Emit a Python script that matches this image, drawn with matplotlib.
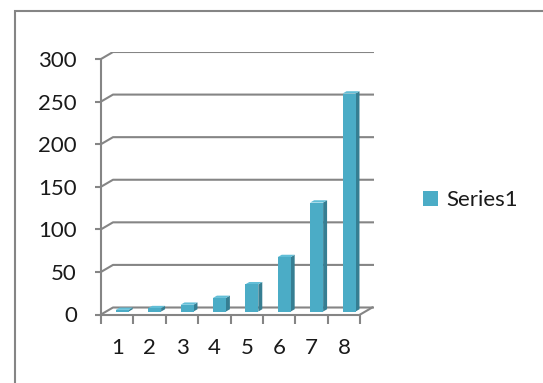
import numpy as np
import matplotlib
matplotlib.use("Agg")
import matplotlib.pyplot as plt
from matplotlib.patches import Rectangle

# data
categories = [1, 2, 3, 4, 5, 6, 7, 8]
values = [2, 4, 8, 16, 32, 64, 128, 256]
y_ticks = [0, 50, 100, 150, 200, 250, 300]
series_name = "Series1"

front_col = "#4BACC6"
side_col = "#367E92"
top_col = "#62BED7"
grid_col = "#858585"
text_col = "#1a1a1a"

plt.rcParams["font.family"] = ["Lato", "DejaVu Sans"]

W, H = 543, 383
fig = plt.figure(figsize=(W / 100, H / 100), dpi=100)

# plot area (front axis to back wall end) in pixels
x0, x1 = 101, 374
y0, y1 = 314.5, 52
ax = fig.add_axes([x0 / W, 1 - y0 / H, (x1 - x0) / W, (y0 - y1) / H])
ax.patch.set_alpha(0)

cat_w = 32.4               # px per category on the front edge
px_unit = 255.5 / 300      # px per value unit
ox = 12 / cat_w            # depth offset, x (data units)
oy = 7 / px_unit           # depth offset, y (data units)
ax.set_xlim(0.5, 0.5 + (x1 - x0) / cat_w)
ax.set_ylim(0, (y0 - y1) / px_unit)

n = len(categories)
xl, xr = 0.5, n + 0.5
lw = 1.5
fs = 16

# floor + back gridlines
ax.fill([xl, xr, xr + ox, xl + ox], [0, 0, oy, oy], color="white", zorder=0)
ax.plot([xr, xr + ox], [0, oy], color=grid_col, lw=lw, zorder=1)
xend = ax.get_xlim()[1]
for v in y_ticks:
    ax.plot([xl, xl + ox, xend], [v, v + oy, v + oy], color=grid_col, lw=lw,
            zorder=1, solid_capstyle="butt")

# 3d-ish columns: front face via bar, side + top from the same values
bw = 0.4
f0, f1 = 0.42, 0.75
xs = np.array(categories, float)
vals = np.array(values, float)
ax.bar(xs + f0 * ox, vals, width=bw, bottom=f0 * oy, color=front_col,
       linewidth=0, zorder=4, label=series_name)
d = f1 - f0
for xc, v in zip(xs, vals):
    l = xc - bw / 2 + f0 * ox
    r = l + bw
    ax.fill([r, r + d * ox, r + d * ox, r],
            [f0 * oy, f1 * oy, v + f1 * oy, v + f0 * oy],
            color=side_col, lw=0, zorder=3)
    ax.fill([l, r, r + d * ox, l + d * ox],
            [v + f0 * oy, v + f0 * oy, v + f1 * oy, v + f1 * oy],
            color=top_col, lw=0, zorder=3)

# axes lines and ticks
ax.spines["top"].set_visible(False)
ax.spines["right"].set_visible(False)
ax.spines["left"].set_bounds(0, 300)
ax.spines["bottom"].set_bounds(xl, xr)
for s in ["left", "bottom"]:
    ax.spines[s].set_color(grid_col)
    ax.spines[s].set_linewidth(lw)

ax.set_yticks(y_ticks)
ax.tick_params(axis="y", length=4.3, width=lw, color=grid_col, pad=13,
               labelsize=fs, labelcolor=text_col)
ax.set_xticks(np.arange(n + 1) + 0.5)
ax.set_xticklabels([])
ax.set_xticks(xs, minor=True)
ax.set_xticklabels([str(c) for c in categories], minor=True)
ax.tick_params(axis="x", which="major", length=6.5, width=lw, color=grid_col)
ax.tick_params(axis="x", which="minor", length=0, pad=17,
               labelsize=fs, labelcolor=text_col)

ax.legend(loc="center left", bbox_to_anchor=(423 / W, 1 - 200 / H),
          bbox_transform=fig.transFigure, frameon=False, fontsize=fs,
          handlelength=0.66, handleheight=0.68, handletextpad=0.4,
          borderpad=0, borderaxespad=0, labelcolor=text_col)

# chart area border (runs off the right and bottom of the crop)
fig.add_artist(Rectangle((14.5 / W, -0.1), 1.2, 1 - 11 / H + 0.1,
                         transform=fig.transFigure, fill=False,
                         edgecolor=grid_col, lw=lw))

fig.savefig("out.png", dpi=100)
